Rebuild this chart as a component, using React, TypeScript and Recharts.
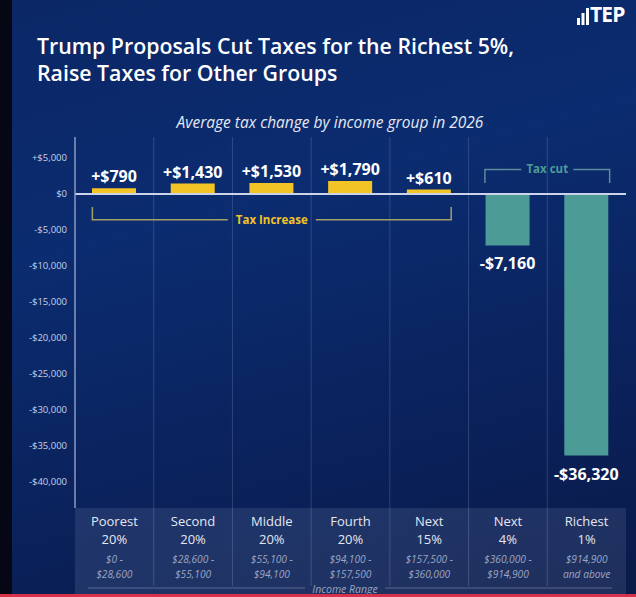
import { Bar, BarChart, CartesianGrid, Cell, LabelList, ReferenceLine, XAxis, YAxis } from "recharts";

const groups = ["Poorest", "Second", "Middle", "Fourth", "Next", "Next", "Richest"];
const shares = ["20%", "20%", "20%", "20%", "15%", "4%", "1%"];
const rangeFrom = ["$0 -", "$28,600 -", "$55,100 -", "$94,100 -", "$157,500 -", "$360,000 -", "$914,900"];
const rangeTo = ["$28,600", "$55,100", "$94,100", "$157,500", "$360,000", "$914,900", "and above"];
const taxChange = [790, 1430, 1530, 1790, 610, -7160, -36320];
const yTicks = [5000, 0, -5000, -10000, -15000, -20000, -25000, -30000, -35000, -40000];

const data = groups.map((g, i) => ({ key: `${g} ${shares[i]}`, value: taxChange[i] }));

// layout
const W = 636;
const H = 597;
const TOP = 137;
const LEFT = 75;
const RIGHT = 626;
const BOTTOM = 508;
const Y_MAX = 7900;
const Y_MIN = -43600;
const BAND = (RIGHT - LEFT) / groups.length;
const BAR = 44;

const font = "'Open Sans', sans-serif";
const YELLOW = "#F2C425";
const TEAL = "#4D9B97";

const yPx = (v: number) => TOP + ((Y_MAX - v) / (Y_MAX - Y_MIN)) * (BOTTOM - TOP);
const barLeft = (i: number) => LEFT + BAND * i + (BAND - BAR) / 2;

const money = (v: number) => {
  const s = "$" + Math.abs(v).toLocaleString("en-US");
  return v > 0 ? "+" + s : v < 0 ? "-" + s : s;
};

function ValueLabel(props: any) {
  const { x, y, width, height, value } = props;
  const cx = x + width / 2;
  const top = Math.min(y, y + height);
  const bottom = Math.max(y, y + height);
  return (
    <text
      x={cx}
      y={value >= 0 ? top - 6 : bottom + 24}
      textAnchor="middle"
      fill="#fff"
      fontFamily={font}
      fontWeight={700}
      fontSize={16}
    >
      {money(value)}
    </text>
  );
}

function GroupTick(props: any) {
  const { x, y, index } = props;
  const left = x - BAND / 2;
  return (
    <g>
      <rect x={left} y={y} width={BAND} height={H - y} fill="rgba(140,160,200,0.16)" />
      {index > 0 && <line x1={left} x2={left} y1={y} y2={y + 78} stroke="rgba(200,210,235,0.22)" />}
      <text x={x} y={y + 18} textAnchor="middle" fill="#e3e7f1" fontFamily={font} fontSize={13}>
        {groups[index]}
      </text>
      <text x={x} y={y + 36} textAnchor="middle" fill="#e3e7f1" fontFamily={font} fontSize={13}>
        {shares[index]}
      </text>
      <text x={x} y={y + 55} textAnchor="middle" fill="#9ba6c2" fontFamily={font} fontStyle="italic" fontSize={10.2}>
        {rangeFrom[index]}
      </text>
      <text x={x} y={y + 70} textAnchor="middle" fill="#9ba6c2" fontFamily={font} fontStyle="italic" fontSize={10.2}>
        {rangeTo[index]}
      </text>
    </g>
  );
}

function Annotations() {
  const incL = barLeft(0);
  const incR = barLeft(4) + BAR;
  const incY = yPx(-3600);
  const incTop = yPx(-1800);
  const incMid = (incL + incR) / 2;
  const cutL = barLeft(5) - 1;
  const cutR = barLeft(6) + BAR + 1;
  const cutY = yPx(3400);
  const cutBot = yPx(1500);
  const cutMid = (cutL + cutR) / 2;
  return (
    <svg width={W} height={H} style={{ position: "absolute", left: 0, top: 0, pointerEvents: "none" }}>
      <g fill="none" stroke="#a39f68" strokeWidth={1.5}>
        <polyline points={`${incL},${incTop} ${incL},${incY} ${incMid - 44},${incY}`} />
        <polyline points={`${incMid + 44},${incY} ${incR},${incY} ${incR},${incTop}`} />
      </g>
      <text x={incMid} y={incY + 4} textAnchor="middle" fill={YELLOW} fontFamily={font} fontWeight={700} fontSize={11.5}>
        Tax Increase
      </text>
      <g fill="none" stroke="#5b8c98" strokeWidth={1.5}>
        <polyline points={`${cutL},${cutBot} ${cutL},${cutY} ${cutMid - 26},${cutY}`} />
        <polyline points={`${cutMid + 26},${cutY} ${cutR},${cutY} ${cutR},${cutBot}`} />
      </g>
      <text x={cutMid} y={cutY + 4} textAnchor="middle" fill={TEAL} fontFamily={font} fontWeight={700} fontSize={11.5}>
        Tax cut
      </text>
      <g stroke="rgba(200,210,235,0.35)" strokeWidth={1}>
        <line x1={88} x2={305} y1={588} y2={588} />
        <line x1={385} x2={612} y1={588} y2={588} />
      </g>
      <text x={345} y={593} textAnchor="middle" fill="#9ba6c2" fontFamily={font} fontStyle="italic" fontSize={10.5}>
        Income Range
      </text>
      <rect x={0} y={H - 3} width={W} height={3} fill="#d8324a" />
    </svg>
  );
}

export default function App() {
  return (
    <div
      style={{
        position: "absolute",
        left: 0,
        top: 0,
        width: W,
        height: H,
        overflow: "hidden",
        background: "linear-gradient(165deg, #0b2766 0%, #0b2c70 35%, #0a2058 75%, #0a1a48 100%)",
        fontFamily: font,
      }}
    >
      <div style={{ position: "absolute", left: 0, top: 0, width: 12, height: H, background: "#050814" }} />
      <div style={{ position: "absolute", left: 577, top: 4, display: "flex", alignItems: "flex-end" }}>
        <svg width={13} height={17}>
          <rect x={0} y={10} width={3} height={7} fill="#fff" />
          <rect x={4.5} y={5} width={3} height={12} fill="#fff" />
          <rect x={9} y={0} width={3} height={17} fill="#fff" />
        </svg>
        <span style={{ color: "#fff", fontWeight: 700, fontSize: 21, lineHeight: "21px", letterSpacing: -0.8 }}>TEP</span>
      </div>
      <div
        style={{
          position: "absolute",
          left: 37,
          top: 32,
          color: "#fff",
          fontWeight: 600,
          fontSize: 21.3,
          lineHeight: "27px",
        }}
      >
        Trump Proposals Cut Taxes for the Richest 5%,
        <br />
        Raise Taxes for Other Groups
      </div>
      <div
        style={{
          position: "absolute",
          left: 0,
          width: 660,
          top: 111,
          textAlign: "center",
          color: "#e4e8f2",
          fontStyle: "italic",
          fontSize: 15.5,
        }}
      >
        Average tax change by income group in 2026
      </div>
      <div style={{ position: "absolute", left: 0, top: 0 }}>
        <BarChart
          width={W}
          height={H}
          data={data}
          margin={{ top: TOP, right: W - RIGHT, bottom: 0, left: 15 }}
        >
          <CartesianGrid
            horizontal={false}
            stroke="rgba(190,200,230,0.2)"
            verticalCoordinatesGenerator={() => [1, 2, 3, 4, 5, 6].map((k) => LEFT + BAND * k)}
          />
          <XAxis
            dataKey="key"
            height={H - BOTTOM}
            axisLine={false}
            tickLine={false}
            tickSize={0}
            tickMargin={0}
            interval={0}
            tick={<GroupTick />}
          />
          <YAxis
            width={60}
            domain={[Y_MIN, Y_MAX]}
            ticks={yTicks}
            allowDataOverflow
            tickFormatter={money}
            tickLine={false}
            axisLine={{ stroke: "#8d98c4", strokeWidth: 1.5 }}
            tick={{ fill: "#c9d0e4", fontSize: 9.5, fontFamily: font }}
          />
          <ReferenceLine y={0} stroke="#ccd4ec" strokeWidth={2} />
          <Bar dataKey="value" barSize={BAR} isAnimationActive={false}>
            {data.map((d) => (
              <Cell key={d.key} fill={d.value >= 0 ? YELLOW : TEAL} />
            ))}
            <LabelList dataKey="value" content={<ValueLabel />} />
          </Bar>
        </BarChart>
      </div>
      <Annotations />
    </div>
  );
}
